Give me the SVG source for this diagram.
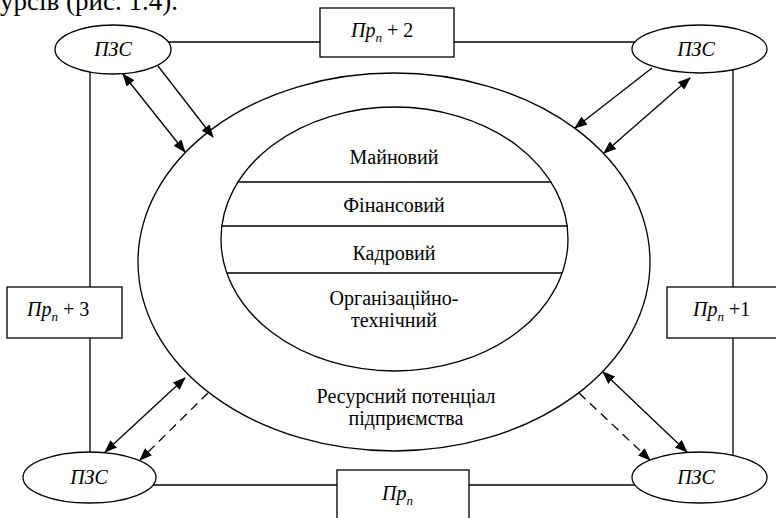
<svg xmlns="http://www.w3.org/2000/svg" width="776" height="518" viewBox="0 0 776 518">
  <style>
    .ln { stroke: #000; stroke-width: 1.3; fill: none; }
    .node { stroke: #000; stroke-width: 1.3; fill: #fff; }
    text { font-family: "Liberation Serif", "DejaVu Serif", "Noto Serif", "Times New Roman", serif; font-size: 20px; fill: #000; }
    .it { font-style: italic; }
    .sub { font-style: italic; font-size: 13px; }
    .dash { stroke-dasharray: 9 6; }
  </style>
  <defs>
    <marker id="ah" markerWidth="13" markerHeight="10" refX="12" refY="5" orient="auto-start-reverse" markerUnits="userSpaceOnUse">
      <path d="M0,0 L13,5 L0,10 Z" fill="#000"/>
    </marker>
  </defs>
  <rect width="776" height="518" fill="#fff"/>

  <!-- running page text above the figure -->
  <text x="0" y="10" style="font-size:27px">урсів (рис. 1.4).</text>

  <!-- frame lines linking the outer nodes -->
  <g id="connectors">
    <line class="ln" x1="165" y1="42" x2="320" y2="42"/>
    <line class="ln" x1="454" y1="42" x2="640" y2="42"/>
    <line class="ln" x1="150" y1="485" x2="337" y2="485"/>
    <line class="ln" x1="469" y1="485" x2="640" y2="485"/>
    <line class="ln" x1="90" y1="70" x2="90" y2="287"/>
    <line class="ln" x1="90" y1="338" x2="90" y2="455"/>
    <line class="ln" x1="733" y1="68" x2="733" y2="287"/>
    <line class="ln" x1="733" y1="338" x2="733" y2="457"/>

    <!-- exchange arrows -->
    <line class="ln" x1="158" y1="66" x2="213" y2="137" marker-end="url(#ah)"/>
    <line class="ln" x1="123" y1="74" x2="185" y2="152" marker-start="url(#ah)" marker-end="url(#ah)"/>
    <line class="ln" x1="652" y1="68" x2="575" y2="128" marker-end="url(#ah)"/>
    <line class="ln" x1="690" y1="78" x2="604" y2="153" marker-start="url(#ah)" marker-end="url(#ah)"/>
    <line class="ln" x1="185" y1="378" x2="105" y2="452" marker-start="url(#ah)" marker-end="url(#ah)"/>
    <line class="ln dash" x1="208" y1="393" x2="140" y2="460" marker-end="url(#ah)"/>
    <line class="ln" x1="603" y1="372" x2="687" y2="452" marker-start="url(#ah)" marker-end="url(#ah)"/>
    <line class="ln dash" x1="579" y1="393" x2="650" y2="460" marker-end="url(#ah)"/>
  </g>

  <!-- enterprise resource potential -->
  <g id="potential">
    <ellipse class="ln" cx="394" cy="262" rx="256" ry="189"/>
    <text x="406" y="403" text-anchor="middle">Ресурсний потенціал</text>
    <text x="406" y="425" text-anchor="middle">підприємства</text>
  </g>

  <g id="components">
    <ellipse class="ln" cx="394.5" cy="239" rx="173.5" ry="132"/>
    <line class="ln" x1="237.5" y1="182" x2="551.5" y2="182"/>
    <line class="ln" x1="221.5" y1="226" x2="567.5" y2="226"/>
    <line class="ln" x1="227" y1="273" x2="562" y2="273"/>
    <text x="394" y="164" text-anchor="middle">Майновий</text>
    <text x="394" y="212" text-anchor="middle">Фінансовий</text>
    <text x="394" y="260" text-anchor="middle">Кадровий</text>
    <text x="394" y="305" text-anchor="middle">Організаційно-</text>
    <text x="394" y="327" text-anchor="middle">технічний</text>
  </g>

  <!-- ПЗС nodes -->
  <g id="pzs-top-left">
    <ellipse class="node" cx="113" cy="49.5" rx="58" ry="24.5"/>
    <text class="it" x="113" y="56" text-anchor="middle">ПЗС</text>
  </g>
  <g id="pzs-top-right">
    <ellipse class="node" cx="699.5" cy="49" rx="67.5" ry="24"/>
    <text class="it" x="696" y="56" text-anchor="middle">ПЗС</text>
  </g>
  <g id="pzs-bottom-left">
    <ellipse class="node" cx="89.5" cy="477.5" rx="66.5" ry="25.5"/>
    <text class="it" x="89" y="484" text-anchor="middle">ПЗС</text>
  </g>
  <g id="pzs-bottom-right">
    <ellipse class="node" cx="699.5" cy="477.5" rx="67.5" ry="25.5"/>
    <text class="it" x="696" y="484" text-anchor="middle">ПЗС</text>
  </g>

  <!-- enterprise boxes -->
  <g id="pr-n2">
    <rect class="node" x="320" y="8" width="134" height="49"/>
    <text x="351" y="37"><tspan class="it">Пр</tspan><tspan class="sub" dy="5">п</tspan><tspan dy="-5"> + 2</tspan></text>
  </g>
  <g id="pr-n3">
    <rect class="node" x="7" y="287" width="115" height="51"/>
    <text x="27" y="316"><tspan class="it">Пр</tspan><tspan class="sub" dy="5">п</tspan><tspan dy="-5"> + 3</tspan></text>
  </g>
  <g id="pr-n1">
    <rect class="node" x="667" y="287" width="115" height="51"/>
    <text x="693" y="316"><tspan class="it">Пр</tspan><tspan class="sub" dy="5">п</tspan><tspan dy="-5"> +1</tspan></text>
  </g>
  <g id="pr-n">
    <rect class="node" x="337" y="470" width="132" height="60"/>
    <text x="382" y="500"><tspan class="it">Пр</tspan><tspan class="sub" dy="5">п</tspan></text>
  </g>
</svg>
